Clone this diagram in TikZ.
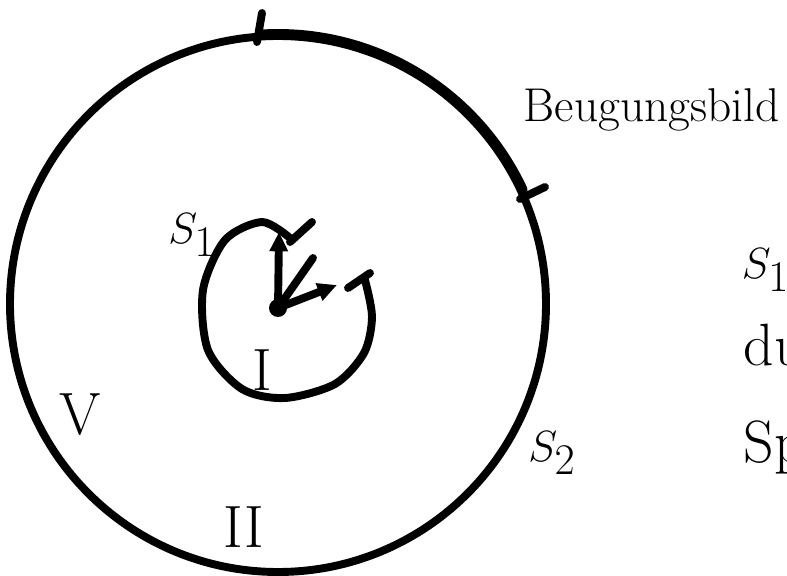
\documentclass[tikz,border=0pt]{standalone}
\usetikzlibrary{arrows.meta}
\begin{document}
\begin{tikzpicture}[x=0.02cm, y=0.02cm, line width=4.5pt, line cap=round, line join=round,
    lbl/.style={font=\fontsize{34}{40}\selectfont, inner sep=0pt},
    vec/.style={-{Triangle[length=11pt,width=10pt]}}]
  \useasboundingbox (0,0) rectangle (787,575);

  % outer circle, the marked arc drawn twice
  \coordinate (O) at (278,271);
  \draw (O) circle[radius=268];
  \draw (O) ++(25:271) arc[start angle=25, end angle=93, radius=271];
  \coordinate (ta1) at (262,562); \coordinate (tb1) at (257,533);
  \coordinate (ta2) at (520,376); \coordinate (tb2) at (545,388);
  \draw (ta1) -- (tb1);
  \draw (ta2) -- (tb2);

  % inner loop with its two end marks
  \draw plot[smooth] coordinates {(290,337) (262,353) (225,335) (203,285) (208,225)
    (242,186) (285,177) (335,191) (364,222) (372,258) (365,295)};
  \coordinate (ea1) at (290,333); \coordinate (eb1) at (312,353);
  \coordinate (ea2) at (348,287); \coordinate (eb2) at (370,302);
  \draw (ea1) -- (eb1);
  \draw (ea2) -- (eb2);

  % center and vectors
  \coordinate (C) at (278,267);
  \coordinate (k1) at (279,343);
  \coordinate (k2) at (313,317);
  \coordinate (k3) at (337,290);
  \fill (C) circle[radius=9];
  \draw[vec] (C) -- (k1);
  \draw (C) -- (k2);
  \draw[vec] (C) -- (k3);

  % labels
  \node[lbl] (s1) at (192,340) {$S_1$};
  \node[lbl] (r1) at (262,205) {I};
  \node[lbl] (r5) at (80,160) {V};
  \node[lbl] (r2) at (244,48) {II};
  \node[lbl] (s2) at (552,122) {$S_2$};
  \node[lbl, font=\fontsize{27}{32}\selectfont, anchor=west] (bb) at (520,465) {Beugungsbild};
  \node[lbl, anchor=west] (n1) at (738,305) {$S_1$};
  \node[lbl, anchor=west] (n2) at (740,230) {du};
  \node[lbl, anchor=west] (n3) at (740,128) {Sp};
\end{tikzpicture}
\end{document}
